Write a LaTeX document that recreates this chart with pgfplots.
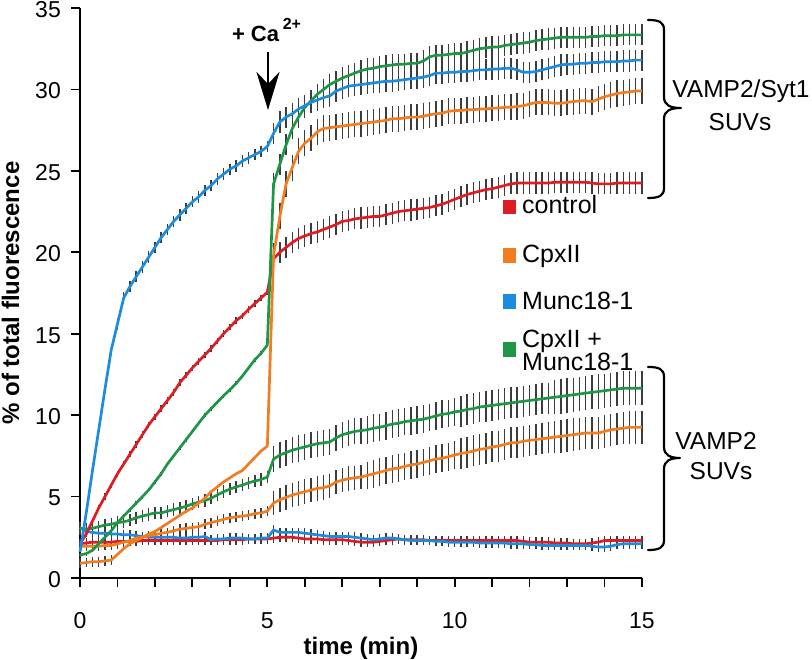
\documentclass[border=0pt]{standalone}
\usepackage{fontspec}
\setmainfont{Liberation Sans}
\usepackage{pgfplots}
\pgfplotsset{compat=1.18}
\usepackage{pgfplotstable}
\usetikzlibrary{arrows.meta}
\definecolor{cred}{RGB}{222,28,36}
\definecolor{corange}{RGB}{242,125,32}
\definecolor{cblue}{RGB}{28,140,222}
\definecolor{cgreen}{RGB}{30,150,70}
\definecolor{cerr}{RGB}{60,60,60}

% i = sample index (10 s steps); VAMP2/Syt1 SUVs
\pgfplotstableread{
i bu bue gu gue ou oue ru rue
0 1.6 0 1.4 0.12 0.9 0.3 2.1 0.2
1 4.0 0 1.5 0.12 0.95 0.3 2.7 0.2
2 6.6 0 1.7 0.12 1.0 0.3 3.5 0.2
3 9.1 0 2.1 0.12 1.0 0.3 4.3 0.2
4 11.6 0 2.5 0.12 1.05 0.3 5.0 0.2
5 14.0 0 2.9 0.12 1.1 0.3 5.7 0.2
6 15.6 0.35 3.4 0.12 1.45 0 6.4 0.2
7 17.2 0.35 3.8 0.12 1.8 0 7.0 0.2
8 17.9 0.35 4.2 0.12 2.1 0 7.6 0.2
9 18.5 0.35 4.6 0.12 2.3 0 8.2 0.2
10 19.1 0.35 5.0 0.12 2.5 0 8.8 0.2
11 19.7 0.35 5.4 0.12 2.7 0 9.4 0.2
12 20.3 0.35 5.9 0.12 2.85 0 9.9 0.2
13 20.9 0.35 6.4 0.12 3.1 0 10.4 0.2
14 21.4 0.35 7.0 0.12 3.35 0 10.9 0.2
15 21.9 0.35 7.5 0.12 3.6 0 11.4 0.2
16 22.3 0.35 8.0 0.12 3.85 0 12.0 0.2
17 22.7 0.35 8.5 0.12 4.1 0 12.45 0.2
18 23.1 0.35 9.0 0.12 4.3 0 12.9 0.2
19 23.4 0.35 9.5 0.12 4.6 0 13.3 0.2
20 23.8 0.35 10.0 0.12 4.9 0 13.7 0.2
21 24.1 0.35 10.4 0.12 5.3 0 14.1 0.2
22 24.5 0.35 10.8 0.12 5.6 0 14.55 0.2
23 24.8 0.35 11.2 0.12 5.9 0 15.0 0.2
24 25.1 0.35 11.55 0.12 6.15 0 15.4 0.2
25 25.3 0.35 11.95 0.12 6.4 0 15.8 0.2
26 25.6 0.35 12.4 0.12 6.6 0 16.1 0.2
27 25.8 0.35 12.9 0.12 7.0 0 16.5 0.2
28 26.0 0.35 13.4 0.12 7.4 0 16.85 0.2
29 26.2 0.35 13.8 0.12 7.8 0 17.2 0.2
30 26.5 0.35 14.3 0.12 8.1 0 17.55 0.2
31 27.3 0.65 24.2 0.65 19.8 0.8 19.6 0.65
32 28.0 0.65 25.4 0.65 22.2 0.8 20.0 0.65
33 28.3 0.65 26.6 0.65 24.2 0.8 20.3 0.65
34 28.5 0.65 27.6 0.65 25.2 0.8 20.6 0.65
35 28.8 0.65 28.3 0.65 26.2 0.8 20.85 0.65
36 29.0 0.65 28.9 0.65 26.7 0.8 21.0 0.65
37 29.2 0.65 29.3 0.65 27.0 0.8 21.15 0.65
38 29.35 0.65 29.7 0.65 27.4 0.8 21.25 0.65
39 29.5 0.65 30.0 0.65 27.6 0.8 21.4 0.65
40 29.6 0.65 30.3 0.65 27.65 0.8 21.55 0.65
41 29.9 0.65 30.5 0.65 27.7 0.8 21.7 0.65
42 30.05 0.65 30.7 0.65 27.75 0.8 21.9 0.65
43 30.2 0.65 30.85 0.65 27.8 0.8 21.95 0.65
44 30.25 0.65 31.0 0.65 27.85 0.8 22.05 0.65
45 30.3 0.65 31.15 0.65 27.9 0.8 22.1 0.65
46 30.35 0.65 31.25 0.65 27.95 0.8 22.15 0.65
47 30.4 0.65 31.3 0.65 28.0 0.8 22.2 0.65
48 30.45 0.65 31.4 0.65 28.05 0.8 22.2 0.65
49 30.5 0.65 31.45 0.65 28.1 0.8 22.3 0.65
50 30.5 0.65 31.5 0.65 28.2 0.8 22.4 0.65
51 30.55 0.65 31.55 0.65 28.2 0.8 22.5 0.65
52 30.6 0.65 31.55 0.65 28.25 0.8 22.55 0.65
53 30.65 0.65 31.6 0.65 28.3 0.8 22.6 0.65
54 30.7 0.65 31.6 0.65 28.3 0.8 22.65 0.65
55 30.75 0.65 31.75 0.65 28.35 0.8 22.7 0.65
56 30.85 0.65 32.0 0.65 28.45 0.8 22.75 0.65
57 31.0 0.65 32.1 0.65 28.5 0.8 22.85 0.65
58 31.0 0.65 32.1 0.65 28.55 0.8 22.95 0.65
59 31.05 0.65 32.15 0.65 28.65 0.8 23.1 0.65
60 31.05 0.65 32.2 0.65 28.7 0.8 23.25 0.65
61 31.1 0.65 32.2 0.65 28.7 0.8 23.4 0.65
62 31.1 0.65 32.3 0.65 28.75 0.8 23.55 0.65
63 31.15 0.65 32.4 0.65 28.75 0.8 23.65 0.65
64 31.2 0.65 32.5 0.65 28.8 0.8 23.75 0.65
65 31.2 0.65 32.55 0.65 28.8 0.8 23.85 0.65
66 31.25 0.65 32.6 0.65 28.85 0.8 23.9 0.65
67 31.25 0.65 32.6 0.65 28.85 0.8 24.0 0.65
68 31.3 0.65 32.7 0.65 28.9 0.8 24.1 0.65
69 31.3 0.65 32.75 0.65 28.9 0.8 24.2 0.65
70 31.2 0.65 32.8 0.65 28.95 0.8 24.25 0.65
71 31.05 0.65 32.85 0.65 29.0 0.8 24.25 0.65
72 31.05 0.65 32.9 0.65 29.1 0.8 24.25 0.65
73 31.1 0.65 33.0 0.65 29.2 0.8 24.25 0.65
74 31.2 0.65 33.05 0.65 29.2 0.8 24.25 0.65
75 31.3 0.65 33.1 0.65 29.2 0.8 24.25 0.65
76 31.4 0.65 33.15 0.65 29.15 0.8 24.3 0.65
77 31.5 0.65 33.2 0.65 29.15 0.8 24.3 0.65
78 31.55 0.65 33.2 0.65 29.2 0.8 24.3 0.65
79 31.55 0.65 33.2 0.65 29.25 0.8 24.3 0.65
80 31.6 0.65 33.2 0.65 29.3 0.8 24.3 0.65
81 31.6 0.65 33.2 0.65 29.3 0.8 24.3 0.65
82 31.65 0.65 33.25 0.65 29.25 0.8 24.25 0.65
83 31.65 0.65 33.25 0.65 29.4 0.8 24.2 0.65
84 31.7 0.65 33.3 0.65 29.55 0.8 24.2 0.65
85 31.7 0.65 33.3 0.65 29.65 0.8 24.2 0.65
86 31.7 0.65 33.3 0.65 29.75 0.8 24.25 0.65
87 31.75 0.65 33.35 0.65 29.8 0.8 24.25 0.65
88 31.75 0.65 33.35 0.65 29.85 0.8 24.25 0.65
89 31.8 0.65 33.35 0.65 29.9 0.8 24.25 0.65
90 31.8 0.65 33.35 0.65 29.9 0.8 24.25 0.65
}\uppertab

% VAMP2 SUVs
\pgfplotstableread{
i bl ble gl gle ol ole rl rle
0 3.1 0.3 3.05 0.38 1.95 0.3 2.1 0.3
1 2.85 0.3 3.0 0.38 1.95 0.3 2.15 0.3
2 2.8 0.3 3.05 0.38 1.95 0.3 2.2 0.3
3 2.75 0.3 3.15 0.38 1.95 0.3 2.2 0.3
4 2.75 0.3 3.25 0.38 2.0 0.3 2.2 0.3
5 2.7 0.3 3.3 0.38 2.0 0.3 2.2 0.3
6 2.7 0.3 3.4 0.38 2.1 0.3 2.25 0.3
7 2.65 0.3 3.45 0.38 2.2 0.3 2.25 0.3
8 2.65 0.3 3.55 0.38 2.3 0.3 2.25 0.3
9 2.6 0.3 3.7 0.38 2.45 0.3 2.25 0.3
10 2.55 0.3 3.8 0.38 2.5 0.3 2.3 0.3
11 2.5 0.3 3.9 0.38 2.6 0.3 2.3 0.3
12 2.5 0.3 4.0 0.38 2.65 0.3 2.3 0.3
13 2.5 0.3 4.0 0.38 2.75 0.3 2.3 0.3
14 2.5 0.3 4.1 0.38 2.8 0.3 2.3 0.3
15 2.5 0.3 4.2 0.38 2.9 0.3 2.3 0.3
16 2.45 0.3 4.3 0.38 3.0 0.3 2.3 0.3
17 2.45 0.3 4.4 0.38 3.05 0.3 2.3 0.3
18 2.5 0.3 4.55 0.38 3.1 0.3 2.3 0.3
19 2.5 0.3 4.65 0.38 3.15 0.3 2.3 0.3
20 2.55 0.3 4.75 0.38 3.3 0.3 2.3 0.3
21 2.35 0.3 4.9 0.38 3.4 0.3 2.3 0.3
22 2.4 0.3 5.1 0.38 3.5 0.3 2.3 0.3
23 2.4 0.3 5.3 0.38 3.6 0.3 2.35 0.3
24 2.45 0.3 5.45 0.38 3.7 0.3 2.35 0.3
25 2.45 0.3 5.6 0.38 3.75 0.3 2.35 0.3
26 2.45 0.3 5.7 0.38 3.8 0.3 2.35 0.3
27 2.4 0.3 5.85 0.38 3.85 0.3 2.4 0.3
28 2.4 0.3 5.95 0.38 3.95 0.3 2.4 0.3
29 2.45 0.3 6.05 0.38 4.0 0.3 2.4 0.3
30 2.45 0.3 6.2 0.38 4.1 0.3 2.4 0.3
31 2.95 0.3 7.3 0.8 4.6 0.75 2.45 0.3
32 2.8 0.3 7.55 0.8 4.8 0.75 2.5 0.3
33 2.8 0.3 7.7 0.8 4.95 0.75 2.5 0.3
34 2.8 0.3 7.85 0.8 5.1 0.75 2.5 0.3
35 2.8 0.3 7.95 0.8 5.2 0.75 2.45 0.3
36 2.75 0.3 8.05 0.8 5.3 0.75 2.4 0.3
37 2.7 0.3 8.15 0.8 5.4 0.75 2.4 0.3
38 2.65 0.3 8.25 0.8 5.5 0.75 2.4 0.3
39 2.6 0.3 8.3 0.8 5.55 0.75 2.35 0.3
40 2.55 0.3 8.35 0.8 5.65 0.75 2.35 0.3
41 2.55 0.3 8.6 0.8 5.9 0.75 2.35 0.3
42 2.55 0.3 8.8 0.8 6.0 0.75 2.35 0.3
43 2.55 0.3 8.9 0.8 6.1 0.75 2.3 0.3
44 2.5 0.3 9.0 0.8 6.15 0.75 2.25 0.3
45 2.45 0.3 9.05 0.8 6.2 0.75 2.2 0.3
46 2.4 0.3 9.1 0.85 6.3 0.85 2.2 0.3
47 2.35 0.3 9.2 0.85 6.4 0.85 2.2 0.3
48 2.4 0.3 9.25 0.85 6.5 0.85 2.25 0.3
49 2.45 0.3 9.35 0.85 6.6 0.85 2.3 0.3
50 2.45 0.3 9.45 0.85 6.7 0.85 2.35 0.3
51 2.4 0.3 9.5 0.85 6.75 0.85 2.4 0.3
52 2.35 0.3 9.6 0.85 6.85 0.85 2.35 0.3
53 2.3 0.3 9.65 0.85 6.95 0.85 2.35 0.3
54 2.3 0.3 9.7 0.85 7.0 0.85 2.35 0.3
55 2.3 0.3 9.75 0.85 7.1 0.85 2.35 0.3
56 2.3 0.3 9.85 0.85 7.2 0.85 2.3 0.3
57 2.25 0.3 9.95 0.85 7.3 0.85 2.3 0.3
58 2.25 0.3 10.05 0.85 7.35 0.85 2.3 0.3
59 2.2 0.3 10.1 0.85 7.45 0.85 2.3 0.3
60 2.2 0.3 10.2 0.85 7.55 0.85 2.3 0.3
61 2.2 0.3 10.25 0.95 7.65 0.95 2.3 0.3
62 2.2 0.3 10.35 0.95 7.7 0.95 2.3 0.3
63 2.2 0.3 10.4 0.95 7.8 0.95 2.3 0.3
64 2.15 0.3 10.5 0.95 7.9 0.95 2.3 0.3
65 2.15 0.3 10.55 0.95 7.95 0.95 2.3 0.3
66 2.15 0.3 10.6 0.95 8.05 0.95 2.3 0.3
67 2.15 0.3 10.65 0.95 8.1 0.95 2.3 0.3
68 2.15 0.3 10.7 0.95 8.2 0.95 2.3 0.3
69 2.1 0.3 10.75 0.95 8.3 0.95 2.3 0.3
70 2.1 0.3 10.8 0.95 8.3 0.95 2.3 0.3
71 2.1 0.3 10.85 0.95 8.4 0.95 2.25 0.3
72 2.05 0.3 10.9 0.95 8.45 0.95 2.2 0.3
73 2.05 0.3 10.95 0.95 8.5 0.95 2.2 0.3
74 2.0 0.3 11.0 0.95 8.55 0.95 2.2 0.3
75 2.0 0.3 11.05 0.95 8.6 0.95 2.2 0.3
76 2.0 0.3 11.1 1.05 8.65 1.0 2.15 0.3
77 2.0 0.3 11.15 1.05 8.7 1.0 2.15 0.3
78 2.0 0.3 11.2 1.05 8.75 1.0 2.15 0.3
79 2.0 0.3 11.25 1.05 8.8 1.0 2.1 0.3
80 2.0 0.3 11.3 1.05 8.85 1.0 2.1 0.3
81 2.0 0.3 11.35 1.05 8.9 1.0 2.1 0.3
82 1.95 0.3 11.4 1.05 8.9 1.0 2.15 0.3
83 1.9 0.3 11.45 1.05 8.9 1.0 2.2 0.3
84 1.9 0.3 11.5 1.05 9.0 1.0 2.3 0.3
85 1.95 0.3 11.55 1.05 9.1 1.0 2.3 0.3
86 2.05 0.3 11.6 1.05 9.15 1.0 2.3 0.3
87 2.1 0.3 11.65 1.05 9.2 1.0 2.3 0.3
88 2.1 0.3 11.65 1.05 9.25 1.0 2.3 0.3
89 2.1 0.3 11.65 1.05 9.25 1.0 2.3 0.3
90 2.1 0.3 11.65 1.05 9.25 1.0 2.3 0.3
}\lowertab

\begin{document}
\begin{tikzpicture}
\useasboundingbox (-80pt,-82pt) rectangle (732pt,578pt);
\begin{axis}[
  at={(0pt,0pt)}, anchor=south west,
  scale only axis, width=562pt, height=570pt,
  xmin=0, xmax=90, ymin=0, ymax=35,
  clip=false,
  axis x line*=bottom, axis y line*=left,
  axis line style={line width=1.8pt, black},
  xtick={0,30,60,90}, xticklabels={0,5,10,15},
  minor x tick num=4,
  ytick={0,5,10,15,20,25,30,35},
  tick align=outside,
  major tick length=9pt, minor tick length=9pt,
  every tick/.style={black, line width=1.8pt},
  /pgf/number format/assume math mode=true,
  tick label style={font=\fontsize{23}{23}\selectfont},
  xticklabel style={anchor=north, inner sep=0pt, yshift=-25pt},
  yticklabel style={anchor=east, inner sep=0pt, xshift=-10pt, yshift=-1.5pt},
  xlabel={\textbf{time (min)}},
  ylabel={\textbf{\% of total fluorescence}},
  label style={font=\fontsize{24}{24}\selectfont},
  xlabel style={at={(axis description cs:0.5,-0.134)}, anchor=base},
  ylabel style={at={(axis description cs:-0.1085,0.5)}, anchor=base},
  error bars/error bar style={draw=cerr, line width=1.4pt},
]
% error bars first
\addplot[forget plot, draw=none, error bars/.cd, y dir=both, y explicit, error mark=none] table[x=i, y=bu, y error=bue]{\uppertab};
\addplot[forget plot, draw=none, error bars/.cd, y dir=both, y explicit, error mark=none] table[x=i, y=gu, y error=gue]{\uppertab};
\addplot[forget plot, draw=none, error bars/.cd, y dir=both, y explicit, error mark=none] table[x=i, y=ou, y error=oue]{\uppertab};
\addplot[forget plot, draw=none, error bars/.cd, y dir=both, y explicit, error mark=none] table[x=i, y=ru, y error=rue]{\uppertab};
\addplot[forget plot, draw=none, error bars/.cd, y dir=both, y explicit, error mark=none] table[x=i, y=bl, y error=ble]{\lowertab};
\addplot[forget plot, draw=none, error bars/.cd, y dir=both, y explicit, error mark=none] table[x=i, y=gl, y error=gle]{\lowertab};
\addplot[forget plot, draw=none, error bars/.cd, y dir=both, y explicit, error mark=none] table[x=i, y=ol, y error=ole]{\lowertab};
\addplot[forget plot, draw=none, error bars/.cd, y dir=both, y explicit, error mark=none] table[x=i, y=rl, y error=rle]{\lowertab};
% lines
\addplot[cred, line width=2.7pt, mark=none, line join=round] table[x=i, y=rl]{\lowertab};
\addplot[cblue, line width=2.7pt, mark=none, line join=round] table[x=i, y=bl]{\lowertab};
\addplot[corange, line width=2.7pt, mark=none, line join=round] table[x=i, y=ol]{\lowertab};
\addplot[cgreen, line width=2.7pt, mark=none, line join=round] table[x=i, y=gl]{\lowertab};
\addplot[cred, line width=2.7pt, mark=none, line join=round] table[x=i, y=ru]{\uppertab};
\addplot[corange, line width=2.7pt, mark=none, line join=round] table[x=i, y=ou]{\uppertab};
\addplot[cgreen, line width=2.7pt, mark=none, line join=round] table[x=i, y=gu]{\uppertab};
\addplot[cblue, line width=2.7pt, mark=none, line join=round] table[x=i, y=bu]{\uppertab};

% legend
\fill[cred] (axis cs:67.7,22.32) rectangle (axis cs:69.9,23.24);
\fill[corange] (axis cs:67.7,19.37) rectangle (axis cs:69.9,20.29);
\fill[cblue] (axis cs:67.7,16.51) rectangle (axis cs:69.9,17.43);
\fill[cgreen] (axis cs:67.7,13.57) rectangle (axis cs:69.9,14.49);
\node[anchor=base west, inner sep=0pt, font=\fontsize{25}{25}\selectfont] at (axis cs:70.78,22.41) {control};
\node[anchor=base west, inner sep=0pt, font=\fontsize{25}{25}\selectfont] at (axis cs:70.78,19.4) {CpxII};
\node[anchor=base west, inner sep=0pt, font=\fontsize{25}{25}\selectfont] at (axis cs:70.78,16.51) {Munc18-1};
\node[anchor=base west, inner sep=0pt, font=\fontsize{25}{25}\selectfont] at (axis cs:70.78,14.18) {CpxII +};
\node[anchor=base west, inner sep=0pt, font=\fontsize{25}{25}\selectfont] at (axis cs:70.78,12.77) {Munc18-1};
\end{axis}

% Ca2+ annotation (picture pt: x = px-80, y = 578-py)
\node[anchor=base, inner sep=0pt, font=\fontsize{22}{22}\selectfont\bfseries] at (186.5pt,536pt) {+ Ca\,\raisebox{12pt}{\fontsize{16}{16}\selectfont 2+}};
\draw[line width=2.4pt, -{Stealth[length=38pt,width=23pt,inset=12pt]}] (188pt,526pt) -- (188pt,468pt);

% braces
\draw[line width=2.2pt, line cap=round, line join=round]
  (568pt,558pt) .. controls (579pt,558pt) and (584pt,556pt) .. (584pt,548pt)
  -- (584pt,481pt) .. controls (584pt,473pt) and (590pt,470pt) .. (601pt,470pt)
  .. controls (590pt,470pt) and (584pt,467pt) .. (584pt,459pt)
  -- (584pt,390pt) .. controls (584pt,382pt) and (579pt,380pt) .. (568pt,380pt);
\draw[line width=2.2pt, line cap=round, line join=round]
  (568pt,211pt) .. controls (579pt,211pt) and (584pt,209pt) .. (584pt,201pt)
  -- (584pt,131pt) .. controls (584pt,123pt) and (590pt,120pt) .. (600pt,120pt)
  .. controls (590pt,120pt) and (584pt,117pt) .. (584pt,109pt)
  -- (584pt,38pt) .. controls (584pt,30pt) and (579pt,28pt) .. (568pt,28pt);
\node[anchor=base, inner sep=0pt, font=\fontsize{24.5}{24.5}\selectfont] at (661pt,480pt) {VAMP2/Syt1};
\node[anchor=base, inner sep=0pt, font=\fontsize{24.5}{24.5}\selectfont] at (660pt,447pt) {SUVs};
\node[anchor=base, inner sep=0pt, font=\fontsize{24.5}{24.5}\selectfont] at (636pt,128pt) {VAMP2};
\node[anchor=base, inner sep=0pt, font=\fontsize{24.5}{24.5}\selectfont] at (641pt,98pt) {SUVs};
\end{tikzpicture}
\end{document}
